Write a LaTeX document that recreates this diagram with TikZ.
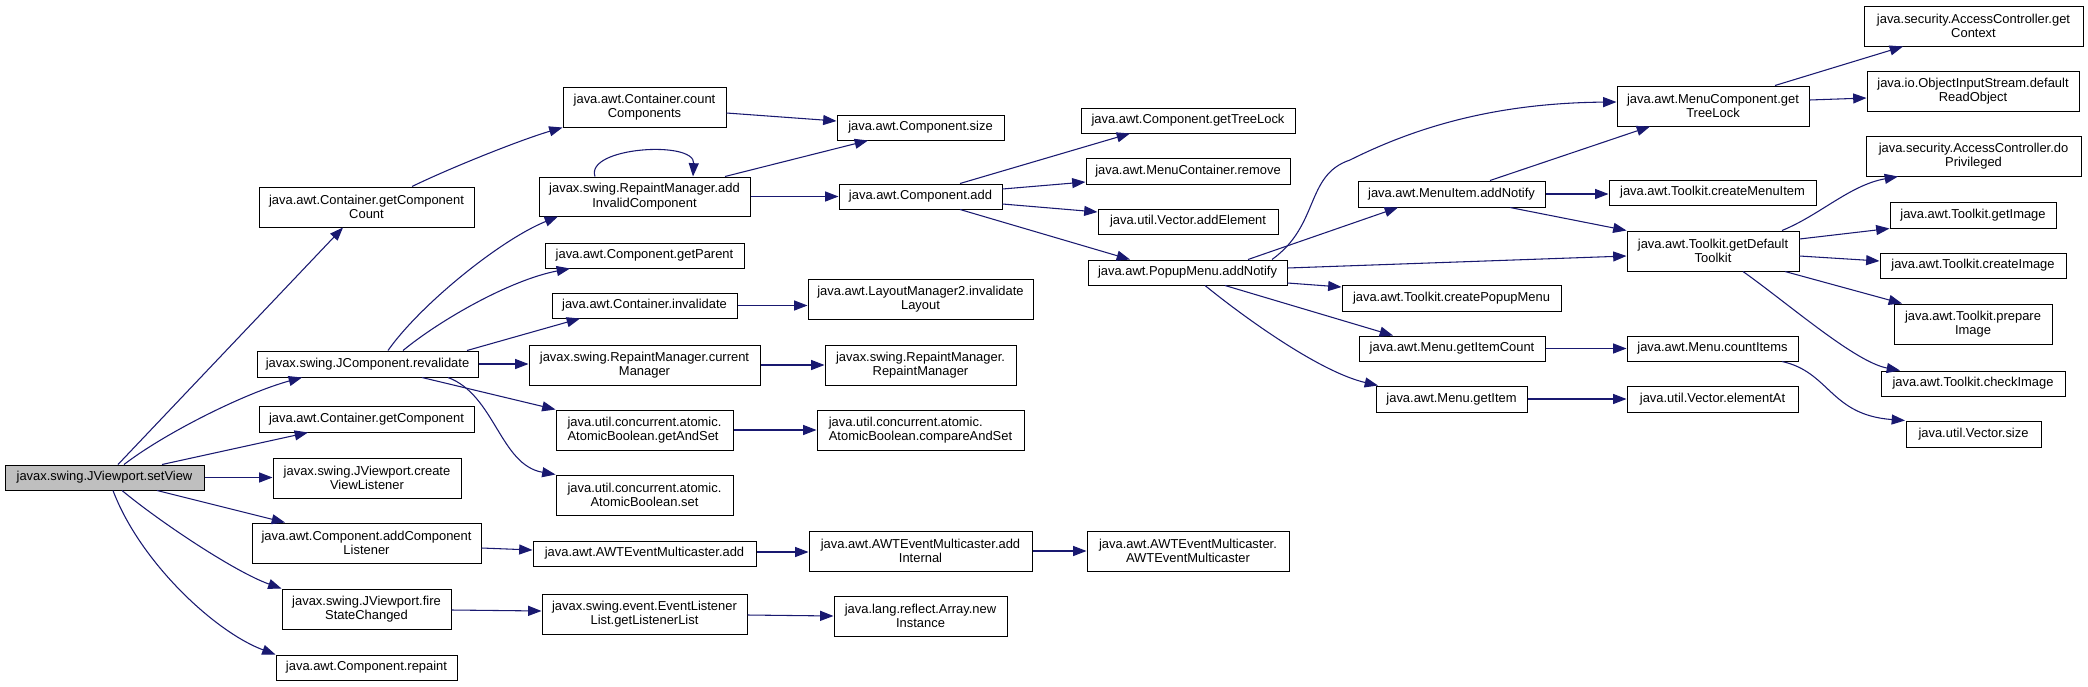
\documentclass[tikz,border=0pt]{standalone}
\usepackage{fontspec}
\setmainfont{Liberation Sans}
\usetikzlibrary{arrows.meta}
\definecolor{edgec}{HTML}{191970}
\definecolor{rootc}{HTML}{BFBFBF}
\newcommand\bx[7]{%
  \pgfmathsetmacro\bxw{(#5-#3)*0.75}%
  \pgfmathsetmacro\bxh{(#6-#4)*0.75}%
  \node (#1) [box,#2,minimum width=\bxw pt,minimum height=\bxh pt] at ({(#3+#5)/2},{(#4+#6)/2}) {#7};}
\begin{document}
\begin{tikzpicture}[x=0.75pt,y=-0.75pt,
  box/.style={draw=black, line width=0.75pt, fill=white, inner sep=0pt, align=center,
    font=\fontsize{9.7}{11}\selectfont},
  edge/.style={draw=edgec, line width=0.8pt, -{Triangle[length=10pt,width=7.5pt]}}]
\useasboundingbox (0,0) rectangle (2088,686);
% column 1
\bx{sv}{fill=rootc}{5}{465}{204}{490}{javax.swing.JViewport.setView}
% column 2
\bx{gcc}{}{259}{187}{474}{227}{java.awt.Container.getComponent\\Count}
\bx{rv}{}{257}{351}{478}{377}{javax.swing.JComponent.revalidate}
\bx{cgc}{}{259}{406}{474}{432}{java.awt.Container.getComponent}
\bx{cvl}{}{273}{458}{461}{498}{javax.swing.JViewport.create\\ViewListener}
\bx{acl}{}{252}{523}{481}{563}{java.awt.Component.addComponent\\Listener}
\bx{fsc}{}{282}{589}{451}{629}{javax.swing.JViewport.fire\\StateChanged}
\bx{rp}{}{276}{655}{457}{680}{java.awt.Component.repaint}
% column 3
\bx{cc}{}{563}{87}{726}{127}{java.awt.Container.count\\Components}
\bx{aic}{}{539}{177}{750}{216}{javax.swing.RepaintManager.add\\InvalidComponent}
\bx{gp}{}{545}{243}{744}{268}{java.awt.Component.getParent}
\bx{ci}{}{552}{293}{737}{318}{java.awt.Container.invalidate}
\bx{cm}{}{529}{345}{760}{385}{javax.swing.RepaintManager.current\\Manager}
\bx{gas}{align=left}{556}{410}{733}{450}{java.util.concurrent.atomic.\\AtomicBoolean.getAndSet}
\bx{abs}{}{556}{475}{733}{515}{java.util.concurrent.atomic.\\AtomicBoolean.set}
\bx{ema}{}{533}{541}{756}{566}{java.awt.AWTEventMulticaster.add}
\bx{gll}{}{542}{594}{747}{634}{javax.swing.event.EventListener\\List.getListenerList}
% column 4
\bx{csz}{}{837}{115}{1004}{140}{java.awt.Component.size}
\bx{cad}{}{839}{184}{1002}{209}{java.awt.Component.add}
\bx{il}{}{808}{279}{1033}{319}{java.awt.LayoutManager2.invalidate\\Layout}
\bx{rmrm}{}{825}{345}{1016}{385}{javax.swing.RepaintManager.\\RepaintManager}
\bx{cas}{align=left}{817}{410}{1024}{450}{java.util.concurrent.atomic.\\AtomicBoolean.compareAndSet}
\bx{ai}{}{809}{531}{1032}{571}{java.awt.AWTEventMulticaster.add\\Internal}
\bx{ani}{}{834}{596}{1007}{636}{java.lang.reflect.Array.new\\Instance}
% column 5
\bx{gtl}{}{1081}{108}{1295}{133}{java.awt.Component.getTreeLock}
\bx{mcr}{}{1086}{158}{1290}{184}{java.awt.MenuContainer.remove}
\bx{vae}{}{1098}{209}{1278}{234}{java.util.Vector.addElement}
\bx{pan}{}{1088}{260}{1287}{285}{java.awt.PopupMenu.addNotify}
\bx{emc}{}{1087}{531}{1289}{571}{java.awt.AWTEventMulticaster.\\AWTEventMulticaster}
% column 6
\bx{mian}{}{1358}{181}{1545}{207}{java.awt.MenuItem.addNotify}
\bx{cpm}{}{1342}{285}{1561}{311}{java.awt.Toolkit.createPopupMenu}
\bx{gic}{}{1359}{336}{1545}{361}{java.awt.Menu.getItemCount}
\bx{gi}{}{1376}{386}{1527}{412}{java.awt.Menu.getItem}
% column 7
\bx{mctl}{}{1617}{86}{1809}{126}{java.awt.MenuComponent.get\\TreeLock}
\bx{cmi}{}{1609}{180}{1816}{205}{java.awt.Toolkit.createMenuItem}
\bx{gdt}{}{1627}{231}{1799}{271}{java.awt.Toolkit.getDefault\\Toolkit}
\bx{cit}{}{1627}{336}{1798}{361}{java.awt.Menu.countItems}
\bx{ea}{}{1627}{386}{1798}{412}{java.util.Vector.elementAt}
% column 8
\bx{gctx}{}{1864}{6}{2083}{46}{java.security.AccessController.get\\Context}
\bx{dro}{}{1867}{71}{2079}{111}{java.io.ObjectInputStream.default\\ReadObject}
\bx{dp}{}{1866}{136}{2081}{176}{java.security.AccessController.do\\Privileged}
\bx{gim}{}{1890}{202}{2056}{228}{java.awt.Toolkit.getImage}
\bx{cim}{}{1880}{253}{2066}{278}{java.awt.Toolkit.createImage}
\bx{pim}{}{1894}{304}{2052}{344}{java.awt.Toolkit.prepare\\Image}
\bx{chk}{}{1881}{371}{2065}{396}{java.awt.Toolkit.checkImage}
\bx{vsz}{}{1906}{421}{2041}{447}{java.util.Vector.size}

% edges from setView
\draw[edge] (sv.north -| 118,0) -- (gcc.south -| 343,0);
\draw[edge] (sv.north -| 124,0) .. controls (165,433) and (245,393) .. (rv.south -| 302,0);
\draw[edge] (sv.north -| 162,0) -- (cgc.south -| 308,0);
\draw[edge] (sv.east) -- (cvl.west |- sv.east);
\draw[edge] (sv.south -| 157,0) -- (acl.north -| 285,0);
\draw[edge] (sv.south -| 122,0) .. controls (160,522) and (235,572) .. (fsc.north west);
\draw[edge] (sv.south -| 113,0) .. controls (140,562) and (215,632) .. (rp.north west);
% column 2 -> 3
\draw[edge] (gcc.north -| 412,0) .. controls (450,168) and (520,140) .. (cc.south west);
\draw[edge] (rv.north -| 388,0) .. controls (420,305) and (500,240) .. (aic.south -| 558,0);
\draw[edge] (rv.north -| 403,0) .. controls (440,320) and (510,280) .. (gp.south -| 570,0);
\draw[edge] (rv.north -| 467,0) -- (ci.south -| 580,0);
\draw[edge] (rv.east) -- (cm.west |- rv.east);
\draw[edge] (rv.south -| 422,0) -- (gas.north west);
\draw[edge] (rv.south -| 448,0) .. controls (495,395) and (500,465) .. (abs.north west);
\draw[edge] (acl.east |- 0,548) -- (ema.west |- 0,550);
\draw[edge] (fsc.east |- 0,610) -- (gll.west |- 0,611);
% column 3 -> 4
\draw[edge] (cc.east |- 0,113) -- (csz.west |- 0,121);
\draw[edge] (aic.north -| 725,0) -- (csz.south -| 868,0);
\draw[edge] (aic.north -| 595,0) .. controls (585,147) and (695,140) .. (aic.north -| 693,0);
\draw[edge] (aic.east) -- (cad.west);
\draw[edge] (ci.east) -- (il.west |- ci.east);
\draw[edge] (cm.east) -- (rmrm.west);
\draw[edge] (gas.east) -- (cas.west);
\draw[edge] (ema.east |- 0,552) -- (ai.west |- 0,552);
\draw[edge] (gll.east |- 0,615) -- (ani.west |- 0,616);
% column 4 -> 5
\draw[edge] (cad.north -| 960,0) -- (gtl.south -| 1130,0);
\draw[edge] (cad.east |- 0,189) -- (mcr.west |- 0,182);
\draw[edge] (cad.east |- 0,204) -- (vae.west |- 0,212);
\draw[edge] (cad.south -| 960,0) -- (pan.north -| 1130,0);
\draw[edge] (ai.east) -- (emc.west);
% column 5 -> 6/7
\draw[edge] (pan.north -| 1272,0) .. controls (1320,225) and (1305,175) .. (1350,160)
  .. controls (1420,125) and (1500,103) .. (mctl.west |- 0,102);
\draw[edge] (pan.north -| 1248,0) -- (mian.south -| 1398,0);
\draw[edge] (pan.east |- 0,268) -- (gdt.west |- 0,256);
\draw[edge] (pan.east |- 0,283) -- (cpm.west |- 0,287);
\draw[edge] (pan.south -| 1225,0) -- (gic.north -| 1393,0);
\draw[edge] (pan.south -| 1205,0) .. controls (1245,318) and (1320,372) .. (gi.north -| 1378,0);
% column 6 -> 7
\draw[edge] (mian.north -| 1490,0) -- (mctl.south -| 1650,0);
\draw[edge] (mian.east) -- (cmi.west |- mian.east);
\draw[edge] (mian.south -| 1510,0) -- (gdt.north west);
\draw[edge] (gic.east) -- (cit.west |- gic.east);
\draw[edge] (gi.east) -- (ea.west |- gi.east);
% column 7 -> 8
\draw[edge] (mctl.north -| 1775,0) -- (gctx.south -| 1903,0);
\draw[edge] (mctl.east |- 0,100) -- (dro.west |- 0,98);
\draw[edge] (gdt.north -| 1782,0) .. controls (1820,215) and (1850,185) .. (dp.south -| 1898,0);
\draw[edge] (gdt.east |- 0,239) -- (gim.south west);
\draw[edge] (gdt.east |- 0,256) -- (cim.west |- 0,261);
\draw[edge] (gdt.south -| 1785,0) -- (pim.north -| 1902,0);
\draw[edge] (gdt.south -| 1743,0) .. controls (1790,305) and (1855,362) .. (chk.north -| 1900,0);
\draw[edge] (cit.south -| 1782,0) .. controls (1830,372) and (1830,415) .. (vsz.north -| 1905,0);
\end{tikzpicture}
\end{document}
